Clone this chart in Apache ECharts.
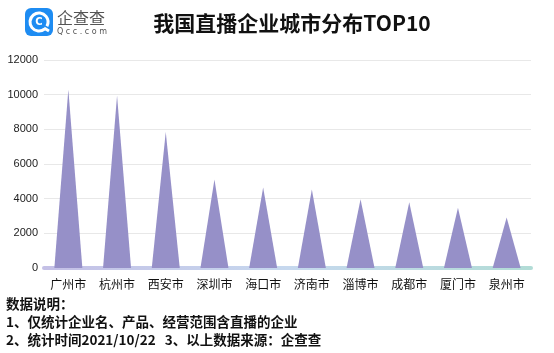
<!DOCTYPE html>
<html>
<head>
<meta charset="utf-8">
<script src="https://cdn.jsdelivr.net/npm/echarts@6/dist/echarts.min.js"></script>
<style>
  html, body { margin: 0; padding: 0; background: #fff; }
  #main { width: 554px; height: 353px; }
</style>
</head>
<body>
<div id="main"></div>
<script>
// 城市及企业数量
var cities = ['广州市', '杭州市', '西安市', '深圳市', '海口市', '济南市', '淄博市', '成都市', '厦门市', '泉州市'];
var counts = [10300, 9950, 7850, 5100, 4650, 4530, 3960, 3790, 3480, 2920];
var yTicks = [0, 2000, 4000, 6000, 8000, 10000, 12000];

var notes = [
  '数据说明：',
  '1、仅统计企业名、产品、经营范围含直播的企业',
  '2、统计时间2021/10/22   3、以上数据来源：企查查'
];

var chart = echarts.init(document.getElementById('main'));

var noteFont = 'bold 13.5px "Noto Sans CJK SC"';

var option = {
  backgroundColor: '#fff',
  animation: false,
  title: {
    text: '我国直播企业城市分布TOP10',
    left: 287,
    top: 8,
    textAlign: 'center',
    textStyle: {
      fontFamily: 'Noto Sans CJK SC',
      fontSize: 21,
      fontWeight: 'bold',
      color: '#111'
    }
  },
  grid: {
    left: 44,
    right: 23,
    top: 60,
    bottom: 85
  },
  xAxis: {
    type: 'category',
    data: cities,
    axisTick: { show: false },
    axisLine: {
      lineStyle: {
        width: 4,
        color: new echarts.graphic.LinearGradient(44, 0, 531, 0, [
          { offset: 0, color: '#c4c0e6' },
          { offset: 0.5, color: '#c6d8ee' },
          { offset: 1, color: '#b2dcd6' }
        ], true)
      }
    },
    axisLabel: {
      margin: 10,
      fontFamily: 'Noto Sans CJK SC',
      fontSize: 12,
      color: '#111'
    }
  },
  yAxis: {
    type: 'value',
    min: yTicks[0],
    max: yTicks[yTicks.length - 1],
    interval: 2000,
    axisLine: { show: false },
    axisTick: { show: false },
    axisLabel: {
      margin: 6,
      fontFamily: 'Liberation Sans',
      fontSize: 11,
      color: '#222',
      formatter: function (v) { return String(v); }
    },
    splitLine: { lineStyle: { color: '#e8e8e8' } }
  },
  series: [
    {
      type: 'pictorialBar',
      symbol: 'triangle',
      symbolSize: [28, '100%'],
      z: 1,
      itemStyle: { color: '#9690c8' },
      data: counts
    }
  ],
  graphic: [
    // logo
    { type: 'rect', shape: { x: 25, y: 8, width: 28, height: 28, r: 6 }, style: { fill: '#1e8cf2' } },
    { type: 'arc', shape: { cx: 39, cy: 22, r: 9, startAngle: 0.9, endAngle: 0.5 + Math.PI * 2 }, style: { stroke: '#fff', lineWidth: 3, fill: null } },
    { type: 'line', shape: { x1: 44, y1: 28, x2: 49, y2: 31 }, style: { stroke: '#fff', lineWidth: 3 } },
    { type: 'text', x: 39, y: 22, style: { text: 'C', fill: '#fff', font: 'bold 10px "DejaVu Sans"', align: 'center', verticalAlign: 'middle' } },
    { type: 'text', x: 57, y: 18, style: { text: '企查查', fill: '#555', font: '16px "Noto Sans CJK SC"', verticalAlign: 'middle' } },
    { type: 'text', x: 57, y: 32, style: { text: 'Q c c . c o m', fill: '#555', font: '8px "DejaVu Sans"', verticalAlign: 'middle' } },
    // 数据说明
    { type: 'text', x: 6, y: 304, style: { text: notes[0], fill: '#111', font: noteFont, verticalAlign: 'middle' } },
    { type: 'text', x: 6, y: 322, style: { text: notes[1], fill: '#111', font: noteFont, verticalAlign: 'middle' } },
    { type: 'text', x: 6, y: 340, style: { text: notes[2], fill: '#111', font: noteFont, verticalAlign: 'middle' } }
  ]
};

chart.setOption(option);

window.addEventListener('resize', function () {
  chart.resize();
});
</script>
</body>
</html>
